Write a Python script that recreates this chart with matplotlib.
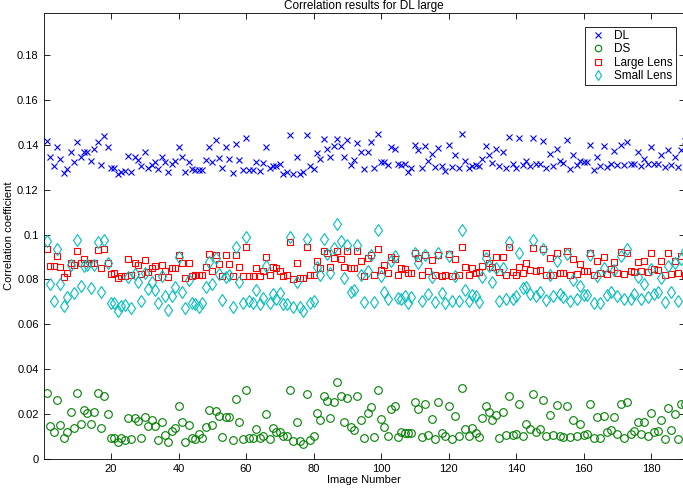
import matplotlib
matplotlib.use("Agg")
import matplotlib.pyplot as plt
import numpy as np

plt.rcParams['font.family'] = ['Liberation Sans', 'DejaVu Sans']

# correlation values per image
dl = [0.1419,0.1348,0.1304,0.1389,0.1336,0.1275,0.1292,0.1366,0.1322,0.1413,
      0.1345,0.1369,0.1369,0.1330,0.1380,0.1413,0.1310,0.1439,0.1392,0.1295,
      0.1295,0.1272,0.1278,0.1284,0.1351,0.1278,0.1348,0.1333,0.1307,0.1369,
      0.1295,0.1310,0.1322,0.1292,0.1345,0.1325,0.1278,0.1313,0.1327,0.1392,
      0.1345,0.1281,0.1322,0.1292,0.1289,0.1286,0.1286,0.1333,
      0.1392,0.1322,0.1422,0.1342,0.1298,0.1389,0.1336,0.1275,0.1404,0.1333,
      0.1289,0.1430,0.1289,0.1286,0.1325,0.1284,0.1319,0.1392,0.1295,0.1307,
      0.1304,0.1316,0.1272,0.1278,0.1445,0.1272,0.1345,0.1272,0.1278,0.1445,
      0.1304,0.1292,0.1363,0.1339,0.1424,0.1380,0.1345,0.1395,0.1424,0.1395,
      0.1348,0.1422,0.1310,0.1333,0.1410,
      0.1369,0.1292,0.1366,0.1413,0.1295,0.1448,0.1322,0.1325,0.1310,0.1392,
      0.1380,0.1313,0.1310,0.1313,0.1278,0.1298,0.1401,0.1377,0.1295,0.1395,
      0.1327,0.1360,0.1301,0.1386,0.1307,0.1284,0.1398,0.1301,0.1354,0.1298,
      0.1448,0.1330,0.1295,0.1304,0.1310,0.1304,0.1336,0.1395,0.1357,0.1319,
      0.1383,0.1307,0.1369,0.1295,0.1436,0.1316,0.1295,0.1430,0.1310,
      0.1330,0.1304,0.1430,0.1313,0.1313,0.1416,0.1298,0.1360,0.1304,0.1383,
      0.1327,0.1319,0.1422,0.1292,0.1357,0.1310,0.1330,0.1325,0.1322,0.1398,
      0.1286,0.1348,0.1304,0.1395,0.1301,0.1316,0.1372,0.1310,0.1401,0.1310,
      0.1413,0.1316,0.1313,0.1369,0.1304,0.1339,0.1313,0.1392,0.1316,0.1316,
      0.1354,0.1301,0.1377,0.1310,0.1348,0.1301,0.1375,0.1416]

ds = [0.0294,0.0149,0.0122,0.0265,0.0152,0.0092,0.0119,0.0208,0.0137,0.0294,
      0.0155,0.0220,0.0205,0.0155,0.0211,0.0294,0.0140,0.0282,0.0199,0.0095,
      0.0095,0.0074,0.0095,0.0086,0.0184,0.0089,0.0184,0.0169,0.0092,0.0187,
      0.0149,0.0172,0.0146,0.0086,0.0166,0.0107,0.0074,0.0125,0.0140,0.0238,
      0.0164,0.0077,0.0152,0.0092,0.0089,0.0113,0.0092,0.0143,
      0.0220,0.0152,0.0214,0.0190,0.0098,0.0187,0.0187,0.0086,0.0268,0.0164,
      0.0089,0.0306,0.0095,0.0095,0.0134,0.0092,0.0101,0.0202,0.0089,0.0137,
      0.0122,0.0122,0.0101,0.0101,0.0309,0.0080,0.0166,0.0080,0.0068,0.0288,
      0.0086,0.0101,0.0205,0.0175,0.0282,0.0259,0.0181,0.0256,0.0342,0.0279,
      0.0164,0.0274,0.0143,0.0128,0.0282,
      0.0175,0.0095,0.0205,0.0232,0.0098,0.0309,0.0178,0.0143,0.0101,0.0223,
      0.0238,0.0098,0.0122,0.0116,0.0116,0.0116,0.0253,0.0223,0.0098,0.0244,
      0.0107,0.0178,0.0089,0.0256,0.0116,0.0101,0.0238,0.0089,0.0193,0.0104,
      0.0318,0.0134,0.0104,0.0137,0.0116,0.0098,0.0181,0.0238,0.0208,0.0172,
      0.0196,0.0095,0.0208,0.0107,0.0279,0.0107,0.0113,0.0244,0.0104,
      0.0158,0.0134,0.0291,0.0119,0.0134,0.0265,0.0101,0.0196,0.0107,0.0241,
      0.0104,0.0098,0.0238,0.0098,0.0175,0.0101,0.0158,0.0107,0.0110,0.0247,
      0.0095,0.0187,0.0092,0.0190,0.0119,0.0131,0.0187,0.0110,0.0244,0.0095,
      0.0256,0.0110,0.0125,0.0166,0.0110,0.0166,0.0104,0.0205,0.0122,0.0125,
      0.0175,0.0089,0.0226,0.0128,0.0202,0.0089,0.0244,0.0244]

large_lens = [0.0937,0.0861,0.0861,0.0905,0.0855,0.0811,0.0828,0.0875,0.0863,0.0928,
      0.0875,0.0893,0.0875,0.0875,0.0875,0.0931,0.0849,0.0937,0.0875,0.0825,
      0.0828,0.0808,0.0814,0.0814,0.0893,0.0819,0.0872,0.0866,0.0825,0.0887,
      0.0834,0.0852,0.0861,0.0811,0.0863,0.0837,0.0811,0.0849,0.0849,0.0911,
      0.0872,0.0805,0.0872,0.0816,0.0819,0.0819,0.0819,0.0855,
      0.0913,0.0837,0.0911,0.0869,0.0816,0.0908,0.0869,0.0814,0.0911,0.0855,
      0.0816,0.0946,0.0816,0.0816,0.0852,0.0816,0.0837,0.0899,0.0822,0.0855,
      0.0849,0.0837,0.0814,0.0819,0.0966,0.0802,0.0872,0.0805,0.0805,0.0946,
      0.0822,0.0822,0.0884,0.0852,0.0928,0.0916,0.0855,0.0896,0.0928,0.0893,
      0.0855,0.0928,0.0849,0.0849,0.0928,
      0.0884,0.0816,0.0896,0.0908,0.0822,0.0937,0.0843,0.0866,0.0831,0.0899,
      0.0893,0.0822,0.0849,0.0846,0.0828,0.0828,0.0916,0.0896,0.0819,0.0911,
      0.0837,0.0887,0.0819,0.0908,0.0816,0.0819,0.0913,0.0814,0.0893,0.0822,
      0.0946,0.0855,0.0822,0.0852,0.0831,0.0834,0.0861,0.0916,0.0872,0.0855,
      0.0899,0.0834,0.0899,0.0819,0.0946,0.0834,0.0822,0.0855,0.0828,
      0.0872,0.0843,0.0940,0.0840,0.0843,0.0934,0.0822,0.0896,0.0822,0.0916,
      0.0831,0.0828,0.0925,0.0822,0.0890,0.0825,0.0869,0.0837,0.0837,0.0916,
      0.0822,0.0881,0.0828,0.0902,0.0825,0.0846,0.0878,0.0828,0.0922,0.0825,
      0.0919,0.0837,0.0834,0.0878,0.0837,0.0881,0.0834,0.0916,0.0846,0.0843,
      0.0881,0.0822,0.0916,0.0825,0.0884,0.0828,0.0905,0.0822]

small_lens = [0.0972,0.0781,0.0702,0.0937,0.0778,0.0684,0.0720,0.0866,0.0740,0.0975,
      0.0772,0.0861,0.0863,0.0764,0.0866,0.0969,0.0746,0.0978,0.0875,0.0693,
      0.0693,0.0658,0.0684,0.0687,0.0811,0.0673,0.0825,0.0787,0.0705,0.0828,
      0.0758,0.0787,0.0752,0.0696,0.0816,0.0726,0.0664,0.0728,0.0767,0.0902,
      0.0746,0.0673,0.0796,0.0696,0.0690,0.0678,0.0696,0.0767,
      0.0878,0.0781,0.0896,0.0825,0.0708,0.0811,0.0819,0.0676,0.0946,0.0790,
      0.0693,0.0990,0.0702,0.0693,0.0752,0.0690,0.0717,0.0861,0.0693,0.0737,
      0.0714,0.0740,0.0690,0.0690,0.0990,0.0676,0.0787,0.0678,0.0658,0.0981,
      0.0693,0.0702,0.0855,0.0819,0.0981,0.0913,0.0828,0.0940,0.1046,0.0972,
      0.0808,0.0955,0.0746,0.0755,0.0952,
      0.0822,0.0699,0.0840,0.0908,0.0699,0.1019,0.0814,0.0746,0.0711,0.0884,
      0.0905,0.0717,0.0714,0.0726,0.0693,0.0720,0.0916,0.0872,0.0702,0.0908,
      0.0734,0.0811,0.0699,0.0919,0.0740,0.0696,0.0905,0.0705,0.0816,0.0705,
      0.1022,0.0752,0.0705,0.0731,0.0726,0.0699,0.0811,0.0896,0.0861,0.0790,
      0.0852,0.0702,0.0849,0.0711,0.0966,0.0714,0.0726,0.0916,0.0764,
      0.0767,0.0734,0.0978,0.0728,0.0746,0.0934,0.0708,0.0822,0.0728,0.0884,
      0.0734,0.0723,0.0913,0.0702,0.0799,0.0714,0.0772,0.0731,0.0731,0.0911,
      0.0693,0.0816,0.0696,0.0852,0.0731,0.0743,0.0843,0.0726,0.0905,0.0711,
      0.0934,0.0714,0.0737,0.0811,0.0711,0.0778,0.0720,0.0846,0.0734,0.0743,
      0.0808,0.0699,0.0858,0.0746,0.0875,0.0702,0.0893,0.0928]

x_ticks = [20, 40, 60, 80, 100, 120, 140, 160, 180]
y_ticks = [0, 0.02, 0.04, 0.06, 0.08, 0.1, 0.12, 0.14, 0.16, 0.18]
y_ticklabels = ['0', '0.02', '0.04', '0.06', '0.08', '0.1', '0.12', '0.14', '0.16', '0.18']

fig = plt.figure(figsize=(6.83, 4.91), dpi=100)
ax = fig.add_axes([0.0637, 0.0652, 0.939, 0.908])

ax.plot(np.arange(1, len(dl) + 1), dl, 'x', color=(0, 0, 1), ms=4.5, mew=0.8, label='DL')
ax.plot(np.arange(1, len(ds) + 1), ds, 'o', color=(0, 0.5, 0), mfc='none', ms=5.5, mew=0.8, label='DS')
ax.plot(np.arange(1, len(large_lens) + 1), large_lens, 's', color=(1, 0, 0), mfc='none', ms=5, mew=0.8, label='Large Lens')
ax.plot(np.arange(1, len(small_lens) + 1), small_lens, 'd', color=(0, 0.75, 0.75), mfc='none', ms=6, mew=0.8, label='Small Lens')

ax.set_xlim(0, 190)
ax.set_ylim(0, 0.1987)
ax.set_xticks(x_ticks)
ax.set_yticks(y_ticks)
ax.set_yticklabels(y_ticklabels)
ax.tick_params(direction='in', top=True, right=True, labelsize=8, length=4, width=0.6)
for s in ax.spines.values():
    s.set_linewidth(0.6)

ax.set_title('Correlation results for DL large', fontsize=8.5, pad=3)
ax.set_xlabel('Image Number', fontsize=8, labelpad=1)
ax.set_ylabel('Correlation coefficient', fontsize=8, labelpad=2)

# legend sits at a fixed spot, running off the right edge like the original
leg = ax.legend(loc='upper left', bbox_to_anchor=(585 / 683, 1 - 27 / 491),
                bbox_transform=fig.transFigure, borderaxespad=0,
                fontsize=8.5, fancybox=False, edgecolor='black', framealpha=1,
                labelspacing=0.12, handlelength=1.7, handletextpad=0.5,
                borderpad=0.25, markerscale=0.85)
leg.get_frame().set_linewidth(0.6)

fig.savefig('out.png', dpi=100)
